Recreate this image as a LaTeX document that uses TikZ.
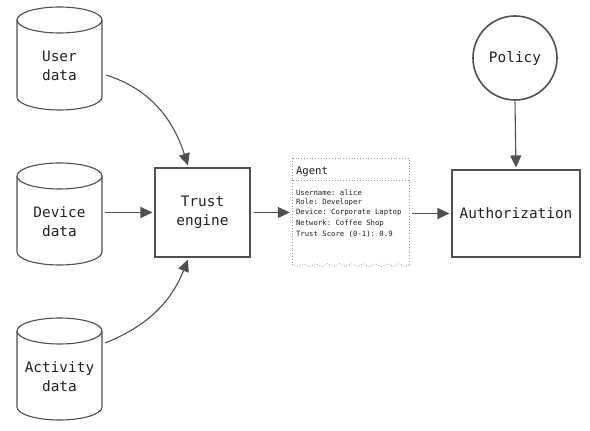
\documentclass[tikz,border=0pt]{standalone}
\usepackage{fontspec}
\setmonofont{DejaVu Sans Mono}
\usetikzlibrary{arrows.meta,decorations.pathmorphing,calc}
\definecolor{ink}{HTML}{505050}
\definecolor{dotc}{HTML}{9A9A9A}
\definecolor{txt}{HTML}{222222}
\newcommand\drawcyl[3]{%
  \draw[inkline,fill=white] (#1-42.5,#2) -- (#1-42.5,#3)
    arc[start angle=180,end angle=360,x radius=42.5,y radius=13] -- (#1+42.5,#2);
  \draw[inkline] (#1,#2) ellipse[x radius=42.5,y radius=13];}
\begin{document}
\begin{tikzpicture}[x=1pt,y=1pt,
  inkline/.style={draw=ink,line width=1.1pt},
  flow/.style={draw=ink,line width=1.1pt,-{Triangle[length=12pt,width=11pt]}},
  lbl/.style={font=\ttfamily\fontsize{14.4}{19}\selectfont,align=center,text=txt},
  boxnode/.style={inkline,rectangle,lbl,inner sep=0pt},
  cylnode/.style={lbl,minimum width=85pt,minimum height=60pt,inner sep=0pt},
  small/.style={font=\ttfamily\fontsize{7.3}{10.2}\selectfont,text=txt,anchor=west,inner sep=0pt},
  dotline/.style={draw=dotc,line width=0.8pt,dotted}
]
\useasboundingbox[fill=white] (0,0) rectangle (590,431);

% cylinders
\drawcyl{59.5}{411}{334}
\drawcyl{59.5}{255}{179}
\drawcyl{59.5}{100}{24}
\node[cylnode] (user) at (59.5,365) {User\\data};
\node[cylnode] (dev) at (59.5,209.5) {Device\\data};
\node[cylnode] (act) at (59.5,54.5) {Activity\\data};

% boxes
\node[boxnode,minimum width=95pt,minimum height=89pt] (trust) at (202.5,218.5) {Trust\\engine};
\node[boxnode,minimum width=128pt,minimum height=87pt] (auth) at (516,217.5) {Authorization};
\node[circle,draw=ink,line width=1.6pt,lbl,minimum size=84pt,inner sep=0pt] (policy) at (515,373) {Policy};

% agent card
\node[minimum width=116pt,minimum height=106pt,inner sep=0pt] (agent) at (351,219) {};
\draw[dotline] (agent.south west) -- (agent.north west) -- (agent.north east) -- (agent.south east);
\draw[dotline,decorate,decoration={snake,amplitude=1.6pt,segment length=12pt}] (agent.south east) -- (agent.south west);
\coordinate (sepL) at ($(agent.north west)+(0,-22)$);
\coordinate (sepR) at ($(agent.north east)+(0,-22)$);
\draw[dotline] (sepL) -- (sepR);
\node[small,font=\ttfamily\fontsize{10.6}{12}\selectfont] (title) at ($(agent.north west)+(3,-13)$) {Agent};
\node[small] (l1) at ($(agent.north west)+(3,-34)$) {Username: alice};
\node[small] (l2) at ($(agent.north west)+(3,-44)$) {Role: Developer};
\node[small] (l3) at ($(agent.north west)+(3,-54)$) {Device: Corporate Laptop};
\node[small] (l4) at ($(agent.north west)+(3,-65)$) {Network: Coffee Shop};
\node[small] (l5) at ($(agent.north west)+(3,-75)$) {Trust Score (0-1): 0.9};

% connectors
\draw[flow] ([xshift=4pt,yshift=-9pt]user.east) to[out=-18,in=108] ([xshift=-14.5pt,yshift=2pt]trust.north);
\draw[flow,shorten <=3pt,shorten >=2pt] (trust.west -| dev.east) -- (trust.west);
\draw[flow] ([xshift=3pt,yshift=33.5pt]act.east) to[out=22,in=-112] ([xshift=-14.5pt,yshift=-2pt]trust.south);
\draw[flow,shorten <=3pt,shorten >=3pt] (trust.east) -- (trust.east -| agent.west);
\draw[flow,shorten <=3pt,shorten >=2pt] (auth.west -| agent.east) -- (auth.west);
\draw[flow,shorten <=1pt,shorten >=2pt] (policy.south) -- (auth.north);
\end{tikzpicture}
\end{document}
